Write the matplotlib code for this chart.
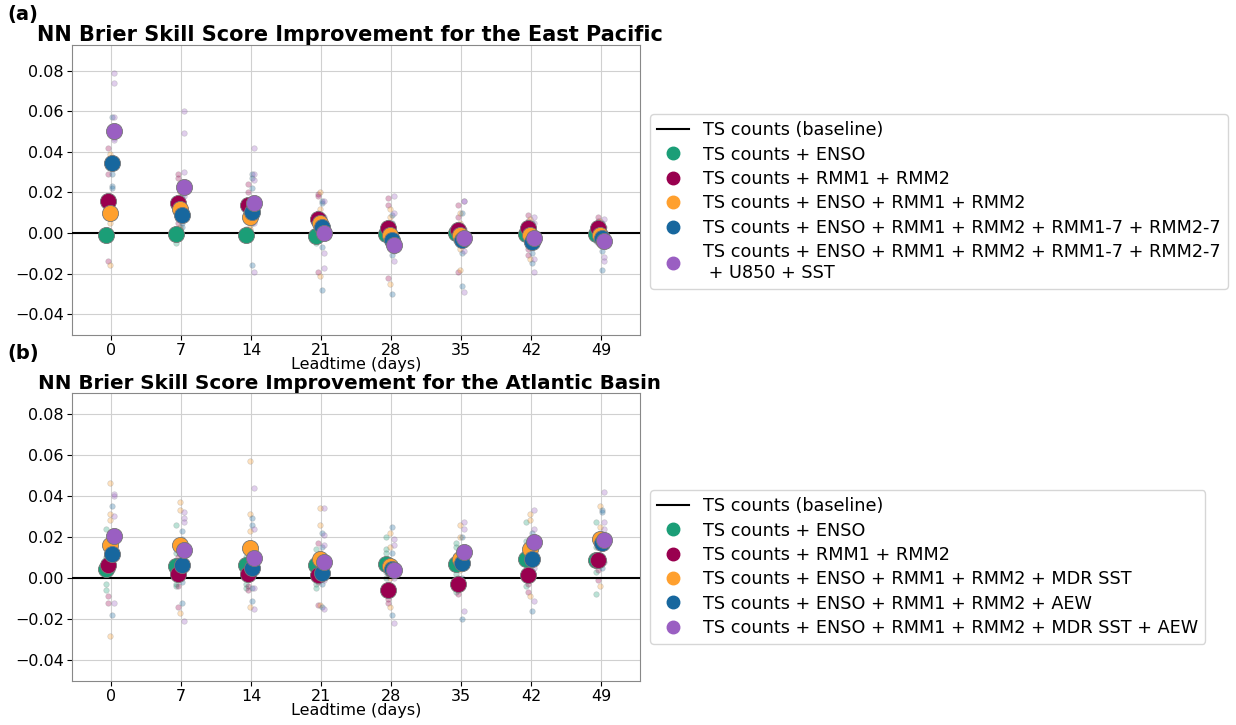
import numpy as np
import matplotlib
matplotlib.use("Agg")
import matplotlib.pyplot as plt
from matplotlib.lines import Line2D

leads = [0, 7, 14, 21, 28, 35, 42, 49]
colors = ['#1b9e77', '#99004f', '#ffa02e', '#17679e', '#9a5fc2']
offsets = [-0.5, -0.3, -0.1, 0.1, 0.3]

ep_labels = ['TS counts + ENSO',
             'TS counts + RMM1 + RMM2',
             'TS counts + ENSO + RMM1 + RMM2',
             'TS counts + ENSO + RMM1 + RMM2 + RMM1-7 + RMM2-7',
             'TS counts + ENSO + RMM1 + RMM2 + RMM1-7 + RMM2-7\n + U850 + SST']
at_labels = ['TS counts + ENSO',
             'TS counts + RMM1 + RMM2',
             'TS counts + ENSO + RMM1 + RMM2 + MDR SST',
             'TS counts + ENSO + RMM1 + RMM2 + AEW',
             'TS counts + ENSO + RMM1 + RMM2 + MDR SST + AEW']

# mean skill improvement (x 1e-3), one row per model, one value per leadtime
ep_means = [
    [-1.0, -0.5, -1.0, -1.5, -0.5, 0.0, -0.5, -0.5],
    [15.9, 14.6, 13.8, 7.0, 2.6, 1.5, 2.3, 2.3],
    [9.7, 11.7, 8.0, 4.8, -1.0, -1.0, -1.0, -1.0],
    [34.3, 8.9, 10.5, 2.8, -3.6, -3.4, -4.3, -2.6],
    [50.4, 22.8, 14.9, -0.2, -6.0, -2.7, -2.6, -4.0],
]
at_means = [
    [4.5, 5.7, 6.1, 6.1, 6.6, 6.9, 9.4, 8.9],
    [6.1, 1.8, 2.1, 1.3, -5.7, -2.7, 1.3, 8.9],
    [15.8, 15.8, 14.7, 9.4, 5.7, 9.4, 14.2, 19.0],
    [11.5, 6.1, 5.0, 2.4, 4.5, 7.3, 9.4, 17.0],
    [20.2, 13.7, 9.9, 7.8, 3.7, 12.6, 17.4, 18.6],
]

# individual ensemble members (x 1e-3): model -> leadtime -> members
ep_enso = [[-1, -2, 0, -1, -3], [-5, -3, 0, 1, -1], [2, 0, -1, -2, -3], [2, 0, -1, -3, -5],
           [3, 1, 0, -2, -3], [4, 1, 0, -2, -4], [3, 1, 0, -2, -3], [3, 1, 0, -2, -4]]
ep_rmm = [[42, 29, 16, 12, -14], [29, 27, 15, 10, 5], [24, 20, 14, 10, 6], [19, 18, 10, 2, -19],
          [17, 14, 5, -2, -22], [14, 8, 2, -4, -19], [9, 6, 3, -8, -11], [8, 6, 3, 0, -5]]
ep_enso_rmm = [[39, 14, 8, 5, -16], [20, 12, 8, 3, 2], [12, 8, 4, 2, 8], [20, 12, 6, 0, -21],
               [12, 8, 2, -6, -25], [10, 5, 0, -8, -18], [7, 3, 0, -5, -13], [6, 3, 0, -3, -6]]
ep_lag = [[57, 32, 29, 23, 22], [18, 12, 8, 5, 3], [29, 27, 22, 5, -16], [16, 15, 2, -7, -28],
          [9, 5, -5, -11, -30], [10, 0, -5, -10, -26], [5, 0, -6, -10, -15], [5, 0, -4, -9, -18]]
ep_full = [[79, 74, 57, 47, 46], [60, 49, 30, 18, 10], [42, 29, 26, 5, -19], [16, 8, 2, -10, -17],
           [18, 10, -5, -9, -14], [16, 16, 2, -9, -29], [8, 5, -4, -13, -19], [7, 3, -6, -12, -14]]

at_enso = [[24, 10, 2, -3, -6], [26, 12, 5, -3, -4], [10, 5, 2, -3, -5], [14, 8, 5, -3, -5],
           [20, 14, 12, 3, 0], [17, 15, 8, 2, -7], [27, 18, 10, 2, -4], [27, 15, 9, 3, -8]]
at_rmm = [[12, 8, 4, -9, -12], [10, 5, 1, -4, -14], [6, 3, 0, -4, -6], [17, 5, 1, -2, -13],
          [2, -3, -6, -10, -12], [5, 0, -3, -6, -8], [8, 5, 1, -3, -7], [15, 10, 8, 4, -1]]
at_sst = [[46, 31, 28, 10, -28], [37, 33, 18, 5, -17], [57, 31, 23, 8, -14], [34, 26, 12, 5, -13],
          [22, 15, 6, 0, -14], [26, 20, 10, 4, -2], [31, 28, 16, 5, -9], [35, 25, 19, 10, -4]]
at_aew = [[35, 20, 12, 4, -18], [23, 19, 6, -2, -12], [29, 26, 8, -5, -11], [22, 15, 3, -3, -14],
          [25, 12, 5, -5, -18], [20, 12, 7, 0, -20], [22, 15, 9, 0, -16], [33, 32, 18, 10, 5]]
at_full = [[41, 40, 30, 10, -12], [32, 29, 27, 10, -21], [44, 24, 15, -5, -15], [34, 21, 16, -1, -15],
           [19, 16, 5, 0, -22], [27, 24, 14, 5, -16], [33, 24, 20, 5, -11], [42, 27, 24, 15, 8]]

ep_members = [ep_enso, ep_rmm, ep_enso_rmm, ep_lag, ep_full]
at_members = [at_enso, at_rmm, at_sst, at_aew, at_full]


def draw_panel(ax, means, members, labels, title, title_size, ylim, legend_y):
    for i in range(5):
        for j, lt in enumerate(leads):
            vals = np.array(members[i][j]) / 1000
            ax.scatter(np.full(len(vals), lt + offsets[i]), vals, s=16, color=colors[i],
                       alpha=0.3, edgecolor='grey', linewidth=0.5, zorder=2)
    ax.axhline(0, color='k', lw=1.5, zorder=3)
    for i in range(5):
        ax.scatter(np.array(leads) + offsets[i], np.array(means[i]) / 1000, s=135,
                   color=colors[i], edgecolor='#777777', linewidth=0.6, zorder=4)
    ax.set_xticks(leads)
    ax.set_xlim(-3.9, 52.9)
    ax.set_ylim(*ylim)
    ax.set_yticks([-0.04, -0.02, 0.0, 0.02, 0.04, 0.06, 0.08])
    ax.grid(True, color='#d0d0d0', lw=0.8)
    ax.set_axisbelow(True)
    for sp in ax.spines.values():
        sp.set_color('#888888')
    ax.tick_params(labelsize=11.5, length=3.5, pad=2.5)
    ax.set_xlabel('Leadtime (days)', fontsize=11.5, labelpad=-1)
    ax.set_title(title, fontsize=title_size, fontweight='bold', pad=3, x=0.489)
    handles = [Line2D([0], [0], color='k', lw=1.5)]
    handles += [Line2D([0], [0], marker='o', ls='', color=c, markersize=9) for c in colors]
    ax.legend(handles, ['TS counts (baseline)'] + labels, loc='center left',
              bbox_to_anchor=(1.018, legend_y), borderaxespad=0, fontsize=12.7,
              handlelength=1.8, labelspacing=0.36)


fig = plt.figure(figsize=(12.36, 7.25), dpi=100)
ax1 = fig.add_axes([0.0583, 0.538, 0.4595, 0.4])
ax2 = fig.add_axes([0.0583, 0.061, 0.4595, 0.397])

draw_panel(ax1, ep_means, ep_members, ep_labels,
           'NN Brier Skill Score Improvement for the East Pacific', 15, (-0.0502, 0.0926), 0.46)
draw_panel(ax2, at_means, at_members, at_labels,
           'NN Brier Skill Score Improvement for the Atlantic Basin', 14.3, (-0.05, 0.09), 0.395)

fig.text(0.006, 0.993, '(a)', fontsize=14, fontweight='bold', va='top')
fig.text(0.006, 0.526, '(b)', fontsize=14, fontweight='bold', va='top')

fig.savefig('out.png', dpi=100)
